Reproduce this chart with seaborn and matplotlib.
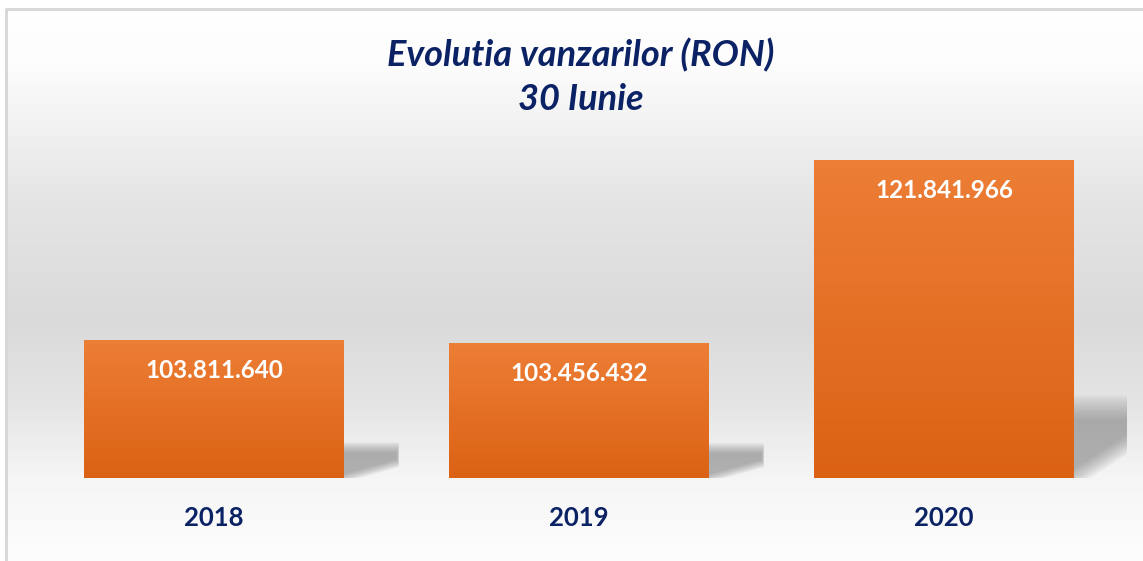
import numpy as np
import pandas as pd
import matplotlib
matplotlib.use("Agg")
import matplotlib.pyplot as plt
from matplotlib.patches import Rectangle, Polygon
import seaborn as sns

# ---- data ----
years = ["2018", "2019", "2020"]
sales = [103811640, 103456432, 121841966]
labels = ["103.811.640", "103.456.432", "121.841.966"]
title_lines = ["Evolutia vanzarilor (RON)", "30 Iunie"]

NAVY = "#0b2265"
sns.set_theme(style="white")
plt.rcParams["font.family"] = ["Lato", "DejaVu Sans"]

W, H = 1143, 561
fig = plt.figure(figsize=(W / 100, H / 100), dpi=100)

# ---- background gradient ----
bg = fig.add_axes([0, 0, 1, 1], zorder=-10)
ys = np.arange(H)
stops_px = [0, 60, 200, 320, 400, 480, 561]
stops_v = [255, 253, 229, 218, 228, 246, 253]
col = np.interp(ys, stops_px, stops_v) / 255.0
img = np.repeat(col[:, None], W, axis=1)
img[:9, :] = 1.0
img[:, :6] = 1.0
bg.imshow(np.dstack([img, img, img]), extent=[0, W, H, 0], aspect="auto")
bg.plot([6, 6, W], [H, 9, 9], color="#d6d6d6", lw=2)
bg.set_xlim(0, W)
bg.set_ylim(H, 0)
bg.axis("off")

# ---- bars ----
ax = fig.add_axes([31.5 / W, 83 / H, 1095 / W, 350 / H])
ax.patch.set_alpha(0)
df = pd.DataFrame({"year": years, "sales": sales})
sns.barplot(data=df, x="year", y="sales", color="#e36c1c", width=260 / 365,
            ax=ax, saturation=1, linewidth=0)
ymin, ymax = 90e6, 125e6

grad = np.linspace(0, 1, 256)[:, None]
top_c = np.array([0.929, 0.494, 0.212])
bot_c = np.array([0.859, 0.384, 0.078])
bar_img = (top_c[None, None, :] * (1 - grad[:, :, None]) + bot_c[None, None, :] * grad[:, :, None])


def shadow_poly(t):
    # normalised shadow outline; t shifts the soft diagonal edge
    ti = max(t, 0.0)
    top = 1.0 - 1.2 * (t + 0.1)
    ur = 1.0 - 0.25 * ti
    g = lambda u: (u - 0.07) * 0.4 / 0.93 + t
    if g(0) > 0:
        pts = [(0, g(0))]
    else:
        pts = [(0, 0), (min(0.07 - t * 0.93 / 0.4, ur), 0)]
    pts += [(ur, min(max(g(ur), 0), top)), (ur, top), (0, top)]
    return np.array(pts)


for p, lab in zip(ax.patches, labels):
    x0, w, h = p.get_x(), p.get_width(), p.get_height()
    im = ax.imshow(bar_img, extent=[x0, x0 + w, ymin, h], aspect="auto",
                   zorder=3, interpolation="bilinear")
    im.set_clip_path(Rectangle((x0, ymin), w, h - ymin, transform=ax.transData))
    p.set_zorder(2)
    # soft shadow to the right of each bar
    r = x0 + w
    sw = 0.15
    sh = 0.26 * (h - ymin)
    for k in range(12):
        t = -0.1 + k * 0.022
        uv = shadow_poly(t)
        xy = np.column_stack([r + uv[:, 0] * sw, ymin + uv[:, 1] * sh])
        ax.add_patch(Polygon(xy, closed=True, facecolor="#707070", alpha=0.055,
                             edgecolor="none", zorder=1))
    ax.annotate(lab, (x0 + w / 2, h), xytext=(0, -22), textcoords="offset points",
                ha="center", va="center", color="white", fontsize=17.5,
                fontweight="bold", zorder=5)

ax.set_xlim(-0.5, 2.5)
ax.set_ylim(ymin, ymax)
ax.set_xlabel("")
ax.set_ylabel("")
ax.set_yticks([])
ax.tick_params(axis="x", length=0, pad=20)
for t in ax.get_xticklabels():
    t.set_fontsize(18.5)
    t.set_fontweight("bold")
    t.set_color(NAVY)
sns.despine(ax=ax, left=True, bottom=True)

# ---- title ----
fig.text(581 / W, 1 - 55 / H, title_lines[0], ha="center", va="center",
         fontsize=26, fontweight="bold", fontstyle="italic", color=NAVY)
fig.text(581 / W, 1 - 100 / H, title_lines[1], ha="center", va="center",
         fontsize=26, fontweight="bold", fontstyle="italic", color=NAVY)

fig.savefig("out.png", dpi=100)
